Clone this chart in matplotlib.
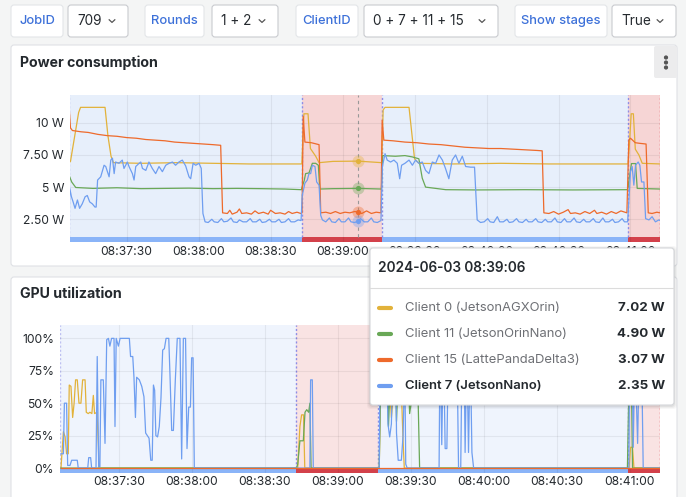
import numpy as np
import matplotlib
matplotlib.use('Agg')
import matplotlib.pyplot as plt
import matplotlib.dates as mdates
from matplotlib.patches import FancyBboxPatch, Rectangle
from matplotlib.lines import Line2D

plt.rcParams['font.family'] = ['Inter', 'DejaVu Sans']

# ---------------- data ----------------
T0 = np.datetime64('2024-06-03T08:37:06')

# Power consumption (W), seconds after 08:37:06
p0_t = [0, 0.6, 4.0, 4.8, 15.0, 16.2, 17.5, 18.5, 30, 45, 60, 75, 90, 97.0, 97.9, 99.6, 100.6, 102.8, 104.2,
        110, 120.5, 130.3, 130.9, 131.7, 141.7, 144.0, 145.8, 160, 180, 200, 220, 233.0, 233.6, 234.3, 235.2,
        236.0, 237.5, 238.9, 246.3]
p0_v = [6.9, 7.0, 10.8, 11.2, 11.2, 9.0, 7.4, 6.9, 6.85, 6.9, 6.85, 6.8, 6.8, 6.8, 10.7, 10.7, 8.0, 7.4, 6.9,
        7.0, 7.02, 6.9, 11.0, 11.2, 11.2, 7.2, 6.85, 6.8, 6.85, 6.8, 6.8, 6.8, 8.5, 10.7, 10.7,
        7.95, 7.5, 6.85, 6.8]

p15_t = [0, 0.6, 1.4, 5, 8, 12, 16, 20, 24, 28, 32, 36, 40, 44, 48, 52, 56, 60, 63.2, 64.0,
         66, 67, 68, 70, 71, 72, 74, 76, 77.5, 79, 81, 83, 84, 86, 88, 90, 91.5, 93, 95, 96.6,
         97.1, 97.6, 98.3, 101, 104.2, 104.9, 107, 109, 111, 113, 115, 117, 119, 120.5, 122, 124, 126, 128, 130.0,
         130.5, 131.2, 135, 140, 145, 150, 155, 160, 165, 170, 175, 180, 185, 190, 195, 197.2, 197.9,
         200, 202, 204, 206, 208, 209, 211, 213, 215, 217, 219, 220, 222, 224, 226, 228, 230, 232.5,
         233.3, 234.0, 236, 238, 240.5, 241.4, 243, 245, 246.3]
p15_v = [11.3, 9.6, 9.4, 9.3, 9.25, 9.1, 9.0, 8.95, 8.85, 8.8, 8.7, 8.65, 8.6, 8.5, 8.45, 8.4, 8.35, 8.3, 8.25, 3.0,
         2.95, 3.2, 2.9, 3.05, 3.3, 2.95, 3.0, 2.9, 3.15, 2.95, 3.05, 2.9, 3.2, 2.95, 3.0, 2.9, 3.1, 2.95, 3.05, 2.95,
         3.0, 10.5, 8.5, 8.45, 8.3, 3.0, 3.05, 2.95, 3.1, 2.95, 3.05, 3.0, 3.1, 3.07, 2.95, 3.15, 2.95, 3.05, 3.0,
         10.2, 8.65, 8.6, 8.5, 8.45, 8.35, 8.3, 8.2, 8.1, 8.05, 8.0, 8.0, 7.95, 7.9, 7.85, 7.82, 3.0,
         2.95, 3.1, 2.9, 3.05, 3.25, 2.95, 3.0, 2.9, 3.1, 2.95, 3.2, 2.95, 3.05, 2.9, 3.1, 2.95, 3.15, 3.0,
         8.65, 8.8, 8.45, 8.4, 8.35, 3.0, 2.95, 3.05, 3.0]

p11_t = [0, 1.1, 2.8, 10, 20, 30, 40, 50, 60, 70, 80, 90, 96.8, 98.0, 98.6, 100, 101.4, 102.8, 103.9, 104.5,
         110, 120.5, 130.2, 130.7, 136, 140, 143, 145.8, 147.2, 148.6, 157, 170, 190, 210, 232.8, 233.9,
         234.4, 236.1, 236.8, 246.3]
p11_v = [5.93, 5.4, 4.97, 4.9, 4.95, 4.88, 4.9, 4.92, 4.88, 4.9, 4.88, 4.85, 4.8, 5.5, 6.05, 6.1, 6.85, 6.85, 6.7, 4.85,
         4.88, 4.90, 4.85, 7.45, 7.4, 7.45, 7.35, 7.2, 5.7, 5.0, 4.8, 4.78, 4.8, 4.78, 4.8, 6.2,
         6.83, 6.83, 4.9, 4.85]

p7_t = [0, 0.3, 1.0, 1.7, 2.5, 3.5, 4.4, 5.5, 6.7, 7.6, 8.6, 9.7, 10.8, 11.3, 11.9, 13.2, 14.6, 15.3, 16.7, 17.4,
        18.1, 18.8, 19.4, 20.8, 22.2, 22.9, 24.3, 25.0, 26.4, 27.1, 27.8, 29.2, 29.9, 30.6, 32.0, 33.3, 34.7,
        36.1, 37.5, 38.9, 40.3, 41.7, 43.1, 44.4, 45.8, 47.2, 48.6, 50.0, 50.7, 51.7, 52.8, 54.2, 55.1, 55.8, 56.7,
        58, 59.5, 60.5, 62, 63.5, 64.5, 66, 67.5, 68.5, 70, 71, 72.5, 74, 75.5, 76.5, 78, 79.5, 80.5, 82, 83.5,
        84.5, 86, 87.5, 88.5, 90, 91.5, 92.5, 94, 95.5, 96.7,
        97.2, 98.3, 99.3, 100.0, 100.7, 101.4, 102.5, 103.2, 104.2, 104.9, 105.6, 107, 108.5, 109.5, 111, 112.5,
        113.5, 115, 116.5, 117.5, 119, 120.5, 121.5, 123, 124.5, 126, 127, 128.5, 130.0,
        130.6, 131.7, 132.6, 134.0, 135.4, 136.8, 137.8, 138.6, 140.0, 141.7, 143.1, 144.4, 145.8, 147.2, 148.6,
        150.0, 151.4, 152.8, 154.2, 155.6, 156.9, 158.3, 159.7, 161.1, 162.5, 163.9, 165.3, 167.4, 169.0, 170.1,
        171.5, 173, 174.5, 175.5, 177, 178.5, 179.5, 181, 182.5, 183.5, 185, 186.5, 187.5, 189, 190.5, 191.5,
        193, 194.5, 195.5, 197, 198.5, 199.5, 201, 202.5, 203.5, 205, 206.5, 207.5, 209, 210.5, 211.5, 213,
        214.5, 215.5, 217, 218.5, 219.5, 221, 222.5, 223.5, 225, 226.5, 227.5, 229, 230.5, 231.5, 232.8,
        233.3, 234.0, 234.7, 235.4, 236.1, 237.2, 237.9, 238.6, 239.6, 240.3, 241.7, 243.0, 244.4, 245.8, 246.3]
p7_v = [2.05, 4.9, 4.25, 3.85, 3.35, 4.0, 3.35, 3.7, 4.25, 4.35, 3.85, 3.7, 3.45, 3.45, 5.55, 5.8, 6.7, 6.6, 5.8, 7.1,
        7.25, 6.05, 6.95, 6.85, 7.1, 6.45, 6.95, 6.6, 6.05, 5.55, 6.6, 6.85, 6.95, 6.45, 6.3, 6.95, 6.45,
        6.05, 6.6, 6.2, 6.7, 6.85, 6.95, 6.7, 6.95, 7.1, 6.65, 5.8, 5.65, 6.85, 6.7, 6.85, 6.45, 2.95, 2.3,
        2.25, 2.5, 2.3, 2.25, 2.55, 2.3, 2.35, 2.6, 2.3, 2.25, 2.45, 2.3, 2.3, 2.55, 2.3, 2.3, 2.5, 2.25, 2.3, 2.5,
        2.3, 2.3, 2.5, 2.25, 2.3, 2.55, 2.3, 2.3, 2.45, 2.4,
        4.35, 5.3, 5.55, 6.05, 6.05, 6.7, 6.6, 5.4, 5.15, 2.8, 2.45, 2.3, 2.6, 2.3, 2.25, 2.55,
        2.3, 2.3, 2.6, 2.3, 2.25, 2.35, 2.55, 2.3, 2.3, 2.6, 2.3, 2.25, 2.4,
        6.6, 7.6, 7.1, 6.95, 7.1, 6.85, 5.65, 6.7, 6.85, 7.1, 6.7, 7.1, 6.85, 6.95, 6.3,
        6.05, 6.95, 6.85, 7.5, 7.1, 6.45, 5.65, 7.1, 7.5, 6.85, 7.4, 6.6, 6.55, 6.55, 2.45,
        2.25, 2.3, 2.55, 2.3, 2.25, 2.7, 2.3, 2.3, 2.5, 2.25, 2.3, 2.55, 2.3, 2.25, 2.5, 2.3,
        2.3, 2.55, 2.3, 2.25, 2.5, 2.3, 2.3, 2.6, 2.3, 2.25, 2.55, 2.3, 2.3, 2.6, 2.3, 2.25,
        2.5, 2.3, 2.3, 2.55, 2.3, 2.25, 2.6, 2.3, 2.3, 2.5, 2.25, 2.3, 2.55, 2.3, 2.3,
        3.85, 6.2, 6.6, 5.15, 6.7, 6.95, 6.7, 5.4, 5.4, 2.55, 2.45, 2.7, 2.3, 2.45, 2.4]

# GPU utilization (%)
g7_t = [0.2, 1.2, 1.6, 2.5, 2.95, 3.9, 4.6, 6.9, 7.3, 11.2, 11.6, 12.4, 12.8, 14.6, 15.1, 15.7, 16.2, 16.6, 17.6,
        18.3, 19.0, 19.7, 20.3, 21.0, 22.0, 22.4, 22.9, 23.8, 24.5, 28.3, 28.8, 29.7, 30.2, 30.8, 31.3, 32.4,
        33.4, 34.3, 35.0, 35.7, 36.4, 37.1, 37.7, 38.2, 38.7, 39.2, 39.9, 40.6, 41.3, 42.0, 42.7, 43.4, 44.5,
        45.0, 45.7, 46.4, 47.2, 48.0, 49.1, 49.8, 50.5, 51.4, 52.0, 52.7, 53.4, 53.9, 54.5, 55.0, 102.5, 102.8,
        103.5, 103.9, 131.0, 131.4, 133.9, 134.6, 135.3, 136.0, 136.7, 137.8, 138.1, 138.8, 140.1, 140.8, 141.5,
        141.9, 142.5, 155.6, 156.0, 156.7, 157.4, 158.1, 158.8, 159.5, 162.9, 163.6, 164.5, 165.0, 165.9, 166.3,
        167.0, 167.7, 168.4, 169.1, 169.8, 233.6, 234.0, 234.9, 235.4, 236.1, 237.2, 237.9, 238.8, 239.5, 246.4]
g7_v = [11, 11, 50, 50, 2, 2, 6, 6, 0, 0, 8, 8, 0, 0, 86, 1, 1, 68, 68,
        19, 99, 100, 94, 100, 100, 32, 100, 94, 100, 100, 86, 86, 70, 39, 70, 68,
        63, 55, 27, 25, 23, 6, 6, 64, 60, 25, 24, 32, 54, 91, 92, 100, 100,
        72, 29, 29, 68, 100, 100, 7, 100, 100, 15, 47, 47, 85, 85, 0, 0, 68,
        68, 0, 0, 100, 100, 34, 24, 34, 90, 90, 27, 6, 6, 25, 80,
        3, 0, 0, 100, 18, 100, 15, 15, 100, 100, 0, 0, 85, 85, 12,
        95, 12, 95, 12, 0, 0, 100, 100, 16, 90, 19, 90, 90, 0, 0]

g0_t = [0.2, 1.2, 1.9, 2.5, 3.2, 3.6, 4.3, 5.0, 5.6, 6.2, 6.9, 7.6, 8.4, 9.1, 10.1, 10.6, 11.4, 12.1, 12.9, 13.5,
        14.0, 15.0, 15.6, 15.8, 97.5, 98.4, 99.1, 99.9, 100.4, 131.0, 131.6, 135.3, 136.0, 137.0, 140.1, 140.8,
        141.3, 233.7, 234.3, 235.1, 235.7, 246.4]
g0_v = [0, 28, 24, 11, 11, 64, 63, 39, 50, 68, 68, 50, 50, 68, 68, 43, 42, 43, 42, 56,
        42, 43, 16, 0, 0, 32, 41, 41, 0, 0, 60, 60, 39, 60, 60, 21,
        0, 0, 16, 16, 0, 0]

g11_t = [0.2, 97.0, 97.5, 98.4, 99.8, 100.5, 101.2, 102.0, 102.5, 103.0, 131.0, 131.6, 134.3, 134.8, 135.6, 137.7,
         138.1, 138.8, 142.9, 143.5, 144.9, 146.9, 147.6, 233.0, 233.6, 234.7, 235.1, 246.4]
g11_v = [0, 0, 3, 21, 21, 43, 45, 43, 50, 0, 0, 70, 70, 32, 70, 70,
         36, 70, 70, 42, 60, 60, 0, 0, 60, 60, 0, 0]

g15_t = [0.2, 246.4]
g15_v = [0, 0]

stage_start = [0, 97.0, 130.4, 233.1]
stage_end = [97.0, 130.4, 233.1, 246.4]
stage_kind = ['train', 'eval', 'train', 'eval']

hover_t = 120.5
hover_label = '2024-06-03 08:39:06'
client_names = ['Client 0 (JetsonAGXOrin)', 'Client 11 (JetsonOrinNano)',
                'Client 15 (LattePandaDelta3)', 'Client 7 (JetsonNano)']
hover_vals = [7.02, 4.90, 3.07, 2.35]

power_ticks = [2.5, 5, 7.5, 10]
power_tick_labels = ['2.50 W', '5 W', '7.50 W', '10 W']
gpu_ticks = [0, 25, 50, 75, 100]
gpu_tick_labels = ['0%', '25%', '50%', '75%', '100%']

controls = [('JobID', '709'), ('Rounds', '1 + 2'), ('ClientID', '0 + 7 + 11 + 15'), ('Show stages', 'True')]

# ---------------- styling ----------------
C_YEL, C_GRN, C_ORG, C_BLU = '#e2b23a', '#69a857', '#ee6a2b', '#6f9ef0'
series_colors = [C_YEL, C_GRN, C_ORG, C_BLU]
TXT = '#24292e'
LW = 0.9


def ts(arr):
    a = np.asarray(arr, dtype=float)
    return T0 + np.round(a * 1000).astype('timedelta64[ms]')


W, H = 686, 497
fig = plt.figure(figsize=(W / 100, H / 100), dpi=100)
fig.patch.set_facecolor('#f4f5f5')


def px_axes(x0, y0, x1, y1, z):
    return fig.add_axes([x0 / W, 1 - y1 / H, (x1 - x0) / W, (y1 - y0) / H], zorder=z)


bg = fig.add_axes([0, 0, 1, 1], zorder=0)
bg.set_xlim(0, W); bg.set_ylim(H, 0); bg.axis('off')
top = fig.add_axes([0, 0, 1, 1], zorder=10)
top.set_xlim(0, W); top.set_ylim(H, 0); top.axis('off')


def rbox(ax, x0, y0, x1, y1, fc, ec, lw=0.8, r=3, z=1, **kw):
    p = FancyBboxPatch((x0, y0), x1 - x0, y1 - y0, boxstyle=f'round,pad=0,rounding_size={r}',
                       fc=fc, ec=ec, lw=lw, zorder=z, **kw)
    ax.add_patch(p)


# controls row
ctrl_boxes = [((11, 63), (68, 128)), ((145, 204), (212, 278)), ((296, 358), (364, 498)), ((515, 607), (612, 676))]
for (lab, val), ((lx0, lx1), (vx0, vx1)) in zip(controls, ctrl_boxes):
    rbox(bg, lx0, 5, lx1, 37, 'white', '#e3e5e8')
    bg.text((lx0 + lx1) / 2, 21, lab, color='#3d71d9', fontsize=9.3, ha='center', va='center', weight='medium')
    rbox(bg, vx0, 5, vx1, 37, 'white', '#c9cbcf')
    bg.text(vx0 + 9, 21, val, color=TXT, fontsize=9.8, ha='left', va='center')
    cx = vx1 - 16
    bg.add_line(Line2D([cx - 2.8, cx, cx + 2.8], [19.8, 22.4, 19.8], color='#555', lw=0.9, zorder=3))

# panels
rbox(bg, 11, 45, 677, 266, 'white', '#dfe1e5', r=3)
rbox(bg, 11, 277, 677, 510, 'white', '#dfe1e5', r=3)
bg.text(20, 62.5, 'Power consumption', fontsize=10.2, weight='bold', color=TXT, va='center')
bg.text(20, 293.5, 'GPU utilization', fontsize=10.2, weight='bold', color=TXT, va='center')
rbox(bg, 654, 46, 677, 78, '#ececed', 'none', lw=0, r=2)
for yy in (57.5, 62.5, 67.5):
    bg.add_patch(plt.Circle((666, yy), 1.4, color='#555', zorder=3))


def setup_axis(ax, ylim, bar_frac, light_train, light_eval, ticks, tlabels, ypad, xpad, xlim):
    ax.set_facecolor('white')
    for s in ax.spines.values():
        s.set_visible(False)
    for a, b, k in zip(stage_start, stage_end, stage_kind):
        lc = light_train if k == 'train' else light_eval
        sc = '#8ab4f8' if k == 'train' else '#d3414b'
        ax.axvspan(ts([a])[0], ts([b])[0], ymin=bar_frac, ymax=1, color=lc, lw=0, zorder=0)
        ax.axvspan(ts([a])[0], ts([b])[0], ymin=0, ymax=bar_frac, color=sc, lw=0, zorder=0.5)
    for i, a in enumerate(stage_start):
        ax.axvline(ts([a])[0], ymin=bar_frac, color='#8d8de6', lw=1.0, ls=(0, (1.5, 1.5)),
                   alpha=0.5 if i == 0 else 1, zorder=1)
    ax.axvline(ts([stage_end[-1]])[0], ymin=bar_frac, color='#e2505c', lw=1.0, ls=(0, (1.5, 1.5)), zorder=1)
    ax.set_ylim(*ylim)
    ax.set_xlim(ts([xlim[0]])[0], ts([xlim[1]])[0])
    ax.set_yticks(ticks)
    ax.set_yticklabels(tlabels)
    ax.xaxis.set_major_locator(mdates.SecondLocator(bysecond=[0, 30]))
    ax.xaxis.set_major_formatter(mdates.DateFormatter('%H:%M:%S'))
    ax.tick_params(axis='both', length=0, labelsize=8.7, colors=TXT)
    ax.tick_params(axis='y', pad=ypad)
    ax.tick_params(axis='x', pad=xpad)
    ax.grid(True, color='black', alpha=0.06, lw=0.8)
    ax.set_axisbelow(False)


# power chart
axp = px_axes(70, 95, 660, 242.3, 2)
setup_axis(axp, (0.71, 12.16), 0.038, '#e7effb', '#f6d5d5', power_ticks, power_tick_labels, 4.3, 3.0, (0.4, 246.3))
for tt, vv, c in [(p0_t, p0_v, C_YEL), (p11_t, p11_v, C_GRN), (p15_t, p15_v, C_ORG), (p7_t, p7_v, C_BLU)]:
    axp.plot(ts(tt), vv, color=c, lw=LW, zorder=3)
axp.axvline(ts([hover_t])[0], ymin=0.038, color='#999999', lw=0.8, ls=(0, (3, 3)), zorder=2)
for v, c in zip(hover_vals, series_colors):
    axp.scatter([ts([hover_t])[0]], [v], s=75, color=c, alpha=0.35, lw=0, zorder=4)
    axp.scatter([ts([hover_t])[0]], [v], s=14, color=c, lw=0, zorder=5)

# gpu chart
axg = px_axes(60, 325, 660, 472.7, 2)
setup_axis(axg, (-3.6, 110.3), 0.034, '#eff4fd', '#f9e3e3', gpu_ticks, gpu_tick_labels, 4.3, 2.4, (-0.2, 246.4))
for tt, vv, c in [(g0_t, g0_v, C_YEL), (g11_t, g11_v, C_GRN), (g7_t, g7_v, C_BLU), (g15_t, g15_v, C_ORG)]:
    axg.plot(ts(tt), vv, color=c, lw=LW, zorder=3)

# tooltip
for i, a in enumerate([0.05, 0.04, 0.03]):
    rbox(top, 370 - i - 1, 248 - i, 674 + i + 1, 405 + i + 2, 'black', 'none', lw=0, r=4, z=1, alpha=a)
rbox(top, 370, 248, 674, 405, 'white', '#d5d7da', lw=0.8, r=3, z=2)
top.text(378, 268.5, hover_label, fontsize=9.8, weight='semibold', color=TXT, va='center', zorder=3)
top.add_line(Line2D([370, 674], [287.7, 287.7], color='#dcdcdc', lw=0.8, zorder=3))
row_y = [308.3, 334.3, 360.0, 386.0]
for i, (name, c, v, yy) in enumerate(zip(client_names, series_colors, hover_vals, row_y)):
    last = i == len(client_names) - 1
    top.add_line(Line2D([379, 391], [yy, yy], color=c, lw=3, solid_capstyle='round', zorder=3))
    top.text(405, yy, name, fontsize=9.4, color=TXT if last else '#6e7075', va='center',
             weight='semibold' if last else 'normal', zorder=3)
    top.text(665, yy, f'{v:.2f} W', fontsize=9.6, color=TXT, va='center', ha='right', weight='bold', zorder=3)

fig.savefig('out.png', dpi=100, facecolor=fig.get_facecolor())
